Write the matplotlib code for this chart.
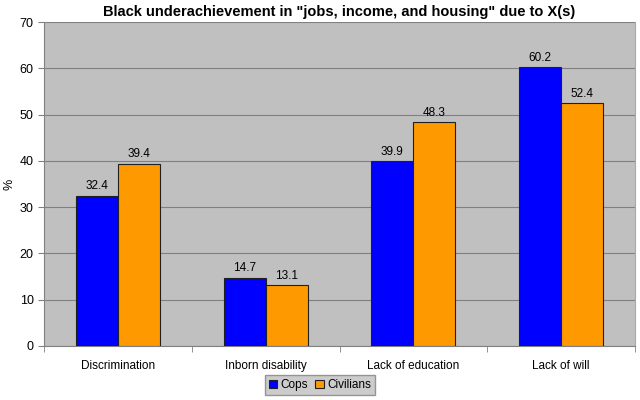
import numpy as np
import matplotlib.pyplot as plt

categories = ["Discrimination", "Inborn disability", "Lack of education", "Lack of will"]
cops = [32.4, 14.7, 39.9, 60.2]
civilians = [39.4, 13.1, 48.3, 52.4]

plt.rcParams["font.family"] = ["Liberation Sans", "DejaVu Sans"]

fig = plt.figure(figsize=(6.4, 4.0), dpi=100)
ax = fig.add_axes([44/640, 54/400, 591/640, 324/400])
ax.set_facecolor("#C0C0C0")

x = np.arange(len(categories))
w = 0.284
b1 = ax.bar(x - w/2, cops, w, color="#0000FF", edgecolor="#202020", linewidth=0.8,
            label="Cops", zorder=3)
b2 = ax.bar(x + w/2, civilians, w, color="#FF9900", edgecolor="#202020", linewidth=0.8,
            label="Civilians", zorder=3)
for bars in (b1, b2):
    for r in bars:
        ax.text(r.get_x() + r.get_width()/2, r.get_height() + 0.8, "%.1f" % r.get_height(),
                ha="center", va="bottom", fontsize=8.5, zorder=4)

ax.set_xlim(-0.5, len(categories) - 0.5)
ax.set_ylim(0, 70)
ax.set_yticks(range(0, 71, 10))
ax.yaxis.grid(True, color="#808080", linewidth=0.8, zorder=1)
ax.set_xticks(x)
ax.set_xticklabels(categories, fontsize=8.5)
ax.set_xticks(np.arange(-0.5, len(categories)), minor=True)
ax.tick_params(axis="x", which="major", length=0, pad=10)
ax.tick_params(axis="x", which="minor", length=4, color="#808080")
ax.tick_params(axis="y", length=4, color="#808080", labelsize=9)
for s in ax.spines.values():
    s.set_color("#808080")
ax.spines["top"].set_visible(False)
ax.spines["right"].set_color("#A8A8A8")

ax.set_ylabel("%", fontsize=9, rotation=90)
ax.yaxis.set_label_coords(-0.049, 0.5)
ax.set_title('Black underachievement in "jobs, income, and housing" due to X(s)',
             fontsize=10.5, fontweight="bold", pad=4)

leg = fig.legend(handles=[b1, b2], loc="center", bbox_to_anchor=(0.5, 15/400), ncol=2,
                 fontsize=8.5, frameon=True, fancybox=False, handlelength=0.7,
                 handleheight=0.7, handletextpad=0.3, columnspacing=0.6,
                 borderpad=0.3)
leg.get_frame().set_facecolor("#C0C0C0")
leg.get_frame().set_edgecolor("#808080")

fig.savefig("out.png", dpi=100)
